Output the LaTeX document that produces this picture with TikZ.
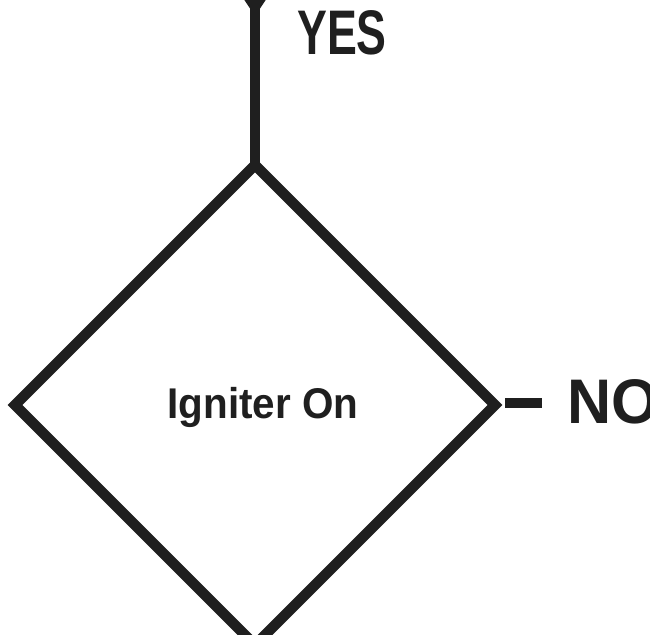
\documentclass[tikz,border=0pt]{standalone}
\usepackage{fontspec}
\setmainfont{Liberation Sans}
\usetikzlibrary{shapes.geometric}
\tikzset{
  flow/.style={line width=10.5pt,color=black!88},
  bigword/.style={inner sep=0pt,font=\fontsize{63}{63}\selectfont\bfseries,text=black!88},
  boxtext/.style={inner sep=0pt,font=\fontsize{43}{43}\selectfont\bfseries,text=black!88}
}

\begin{document}
\begin{tikzpicture}[x=1pt,y=-1pt]
\useasboundingbox (0,0) rectangle (650,634);
\node at (255,405) [diamond,draw,flow,minimum width=480pt,minimum height=480pt,inner sep=0pt,outer sep=0pt,miter limit=4] (igniter) {};
\node at (263,418) [boxtext,anchor=base,xscale=0.94] (igniterlbl) {Igniter On};
\node at (342,55) [bigword,anchor=base,xscale=0.71] (yes) {YES};
\node at (567,423) [bigword,anchor=base west,xscale=0.97] (no) {NO};
\coordinate (in) at (255,-60);
\coordinate (tip) at (255,16);
\coordinate (noside) at ([yshift=2pt]igniter.east);
\draw[flow] (in) -- (igniter.north);
\fill[black!88] (tip) -- ++(-28,-42) -- ++(56,0) -- cycle;
\draw[flow] ([xshift=10pt]noside) -- ([xshift=-25pt]no.west |- noside);
\end{tikzpicture}
\end{document}
